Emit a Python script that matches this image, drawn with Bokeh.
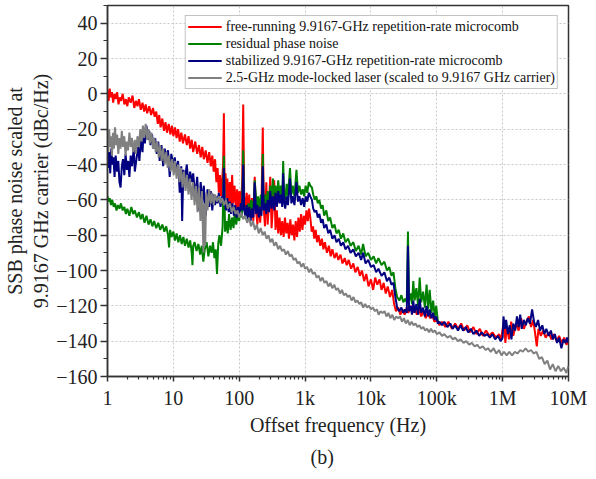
from bokeh.plotting import figure
from bokeh.models import FixedTicker, Title
from bokeh.embed import file_html
from bokeh.resources import INLINE

# ---------------- data (offset frequency in Hz, SSB phase noise in dBc/Hz) -------------
red = [(1,2),(1.04,-4),(1.08,3),(1.12,-2),(1.17,1),(1.22,-5),(1.28,0),(1.34,-3),(1.4,1),(1.47,-6),
       (1.54,-2),(1.6,-4),(1.7,0),(1.8,-6),(1.9,-3),(2.0,-7),(2.1,-2),(2.25,-5),(2.4,-1),(2.55,-8),
       (2.7,-4),(2.85,-7),(3.0,-3),(3.2,-9),(3.4,-5),(3.6,-10),(3.8,-6),(4.0,-11),(4.3,-7),(4.6,-12),
       (4.9,-8),(5.2,-13),(5.5,-10),(5.8,-17),(6.1,-12),(6.4,-19),(6.8,-14),(7.2,-21),(7.6,-16),(8.0,-22),
       (8.5,-17),(9.0,-23),(9.5,-18),(10,-24),(10.6,-19),(11.2,-25),(11.8,-20),(12.5,-27),(13.2,-22),(14,-28),
       (15,-23),(16,-29),(17,-24),(18,-31),(19,-26),(20,-33),(21.5,-27),(23,-34),(24.5,-29),(26,-36),
       (27.5,-30),(29,-37),(31,-32),(33,-39),(35,-33),(37,-41),(39,-35),(41,-44),(43,-37),(45,-50),
       (47,-42),(49,-56),(51,-46),(53,-58),(55,-49),(57,-40),(58.5,-11),(60,-52),(62,-45),(64,-59),
       (66,-48),(69,-61),(72,-50),(75,-63),(78,-46),(81,-62),(85,-52),(89,-65),(93,-54),(97,-66),
       (101,-55),(106,-64),(111,-50),(115,-6),(119,-58),(124,-67),(130,-56),(136,-69),(142,-57),(149,-70),
       (156,-59),(164,-72),(172,-47),(180,-66),(189,-74),(198,-60),(208,-73),(218,-62),(228,-19),(236,-65),
       (246,-75),(258,-50),(270,-74),(283,-62),(296,-47),(310,-76),(325,-64),(340,-49),(356,-77),(373,-66),
       (391,-79),(410,-70),(430,-80),(450,-72),(472,-81),(495,-70),(519,-79),(544,-73),(570,-82),(597,-71),
       (626,-80),(656,-74),(688,-83),(721,-72),(756,-81),(792,-70),(830,-78),(870,-68),(912,-77),(956,-69),
       (1000,-74),(1050,-66),(1100,-72),(1150,-65),(1200,-70),(1260,-78),(1320,-75),(1380,-82),(1450,-77),(1520,-84),
       (1600,-80),(1700,-86),(1800,-82),(1900,-88),(2000,-84),(2150,-90),(2300,-86),(2450,-92),(2600,-88),(2800,-93),
       (3000,-90),(3200,-94),(3450,-91),(3700,-96),(4000,-93),(4300,-97),(4600,-94),(5000,-99),(5400,-96),(5800,-101),
       (6300,-98),(6800,-103),(7300,-100),(7900,-106),(8500,-102),(9200,-109),(10000,-105),(10800,-111),(11600,-104),(12500,-108),
       (13500,-105),(14500,-111),(15600,-107),(16800,-113),(18000,-109),(19500,-115),(21000,-111),(22500,-119),(24000,-123),(26000,-121),
       (28000,-125),(30000,-122),(32500,-125),(35000,-121),(37000,-124),(40000,-120),(43000,-124),(46000,-121),(50000,-125),(54000,-122),
       (58000,-126),(63000,-123),(68000,-127),(73000,-124),(79000,-127),(85000,-125),(92000,-129),(100000,-128),(110000,-131),(120000,-129),
       (135000,-132),(150000,-129),(170000,-133),(190000,-130),(210000,-133),(235000,-130),(260000,-134),(290000,-131),(320000,-135),(360000,-132),
       (400000,-136),(450000,-133),(500000,-137),(560000,-134),(630000,-137),(700000,-135),(790000,-138),(880000,-136),(950000,-139),(1000000,-133),
       (1050000,-128),(1100000,-141),(1150000,-132),(1250000,-139),(1350000,-129),(1450000,-137),(1600000,-130),(1750000,-134),(1900000,-127),(2100000,-133),
       (2300000,-129),(2500000,-126),(2700000,-132),(2900000,-128),(3100000,-135),(3300000,-143),(3500000,-133),(3800000,-137),(4100000,-134),(4500000,-138),
       (5000000,-135),(5500000,-139),(6000000,-136),(6600000,-140),(7200000,-137),(7900000,-141),(8600000,-138),(9300000,-142),(10000000,-140)]

green = [(1,-58),(1.04,-61),(1.08,-59),(1.13,-63),(1.18,-60),(1.24,-64),(1.3,-62),(1.37,-66),(1.44,-63),(1.52,-65),
         (1.6,-62),(1.7,-66),(1.8,-64),(1.9,-68),(2.0,-65),(2.15,-69),(2.3,-64),(2.45,-68),(2.6,-66),(2.8,-70),
         (3.0,-67),(3.2,-71),(3.4,-68),(3.65,-73),(3.9,-69),(4.2,-74),(4.5,-71),(4.8,-75),(5.1,-72),(5.5,-76),
         (5.9,-73),(6.3,-77),(6.8,-74),(7.3,-78),(7.8,-75),(8.3,-80),(8.6,-87),(8.9,-77),(9.4,-81),(10,-78),
         (10.6,-83),(11.2,-79),(11.9,-84),(12.6,-80),(13.4,-85),(14.2,-81),(15,-86),(16,-82),(17,-87),(18,-83),
         (19,-90),(19.5,-97),(20,-86),(21,-84),(22.5,-89),(24,-85),(25.5,-91),(27,-86),(28.5,-95),(30,-88),
         (32,-84),(34,-92),(36,-86),(38,-90),(40,-84),(42,-93),(44,-88),(46,-102),(48,-85),(50,-80),
         (53,-86),(56,-75),(58.5,-35),(61,-78),(64,-72),(67,-79),(70,-68),(74,-77),(78,-70),(82,-76),
         (86,-66),(90,-74),(95,-68),(100,-72),(105,-64),(110,-70),(115,-32),(119,-66),(125,-64),(131,-69),
         (138,-62),(145,-67),(152,-60),(160,-66),(168,-59),(172,-49),(184,-64),(193,-58),(203,-65),(213,-57),
         (223,-63),(228,-34),(234,-62),(246,-57),(258,-64),(270,-55),(283,-62),(296,-52),(310,-60),(325,-48),
         (340,-58),(356,-52),(373,-60),(391,-49),(410,-58),(430,-52),(450,-59),(465,-38),(480,-56),(500,-60),
         (525,-51),(550,-58),(590,-42),(620,-57),(650,-52),(690,-58),(740,-43),(780,-56),(820,-52),(870,-57),
         (920,-54),(970,-58),(1020,-52),(1080,-56),(1140,-50),(1200,-52),(1270,-53),(1330,-57),(1400,-60),(1480,-58),
         (1560,-62),(1650,-60),(1750,-65),(1850,-63),(1950,-69),(2100,-66),(2250,-72),(2400,-70),(2600,-76),(2800,-74),
         (3000,-79),(3250,-77),(3500,-82),(3800,-79),(4100,-84),(4500,-82),(4900,-86),(5400,-84),(5900,-89),(6500,-86),
         (7100,-91),(7600,-85),(8300,-92),(9100,-90),(10000,-94),(11000,-92),(12000,-96),(13000,-93),(14500,-97),(16000,-95),
         (17500,-100),(19000,-98),(20500,-103),(22000,-101),(23500,-110),(25000,-115),(27000,-117),(29000,-114),(31000,-118),(33000,-116),
         (35000,-118),(36500,-78),(38000,-117),(40000,-113),(42000,-119),(44000,-106),(46000,-117),(49000,-110),(52000,-120),(55000,-104),
         (58000,-118),(62000,-112),(66000,-121),(70000,-108),(74000,-122),(78000,-111),(83000,-124),(88000,-117),(93000,-126),(98000,-120),
         (104000,-129)]

blue = [(1,-30),(1.03,-42),(1.06,-33),(1.1,-45),(1.14,-31),(1.18,-40),(1.23,-36),(1.28,-47),(1.33,-35),(1.4,-44),
        (1.46,-38),(1.52,-50),(1.58,-53),(1.65,-41),(1.72,-37),(1.8,-46),(1.88,-34),(1.97,-43),(2.06,-38),(2.15,-47),
        (2.25,-35),(2.35,-41),(2.5,-31),(2.6,-44),(2.75,-37),(2.9,-30),(3.05,-38),(3.2,-26),(3.4,-33),(3.55,-20),
        (3.7,-28),(3.9,-18),(4.1,-26),(4.3,-21),(4.5,-29),(4.75,-23),(5.0,-31),(5.3,-25),(5.6,-34),(5.9,-27),
        (6.2,-38),(6.6,-29),(7.0,-41),(7.4,-31),(7.8,-36),(8.3,-32),(8.8,-47),(9.3,-34),(9.9,-40),(10.5,-36),
        (11.1,-44),(11.8,-38),(12.5,-56),(13.2,-41),(13.6,-72),(14.2,-43),(15,-48),(16,-40),(17,-52),(18,-44),
        (19,-50),(20,-45),(21.5,-58),(23,-47),(24.5,-66),(26,-50),(27.5,-62),(29,-52),(31,-69),(33,-54),
        (35,-64),(37,-55),(39,-66),(41,-57),(43,-63),(45,-58),(47,-62),(49,-56),(52,-64),(55,-58),
        (57,-60),(58.5,-42),(60,-61),(63,-66),(66,-59),(69,-67),(72,-61),(75,-68),(79,-62),(83,-69),
        (87,-63),(91,-70),(96,-64),(101,-68),(106,-62),(111,-66),(115,-40),(119,-65),(124,-70),(130,-63),
        (136,-71),(142,-64),(149,-72),(156,-65),(164,-70),(172,-50),(180,-68),(189,-63),(198,-70),(208,-64),
        (218,-69),(228,-41),(236,-66),(246,-62),(258,-68),(270,-60),(283,-67),(296,-55),(310,-65),(325,-58),
        (340,-66),(356,-56),(373,-64),(391,-55),(410,-62),(430,-57),(450,-64),(465,-45),(480,-61),(500,-65),
        (525,-58),(550,-63),(590,-48),(620,-62),(650,-58),(690,-63),(740,-50),(780,-61),(820,-58),(870,-63),
        (920,-59),(970,-64),(1020,-58),(1080,-61),(1140,-56),(1200,-58),(1270,-60),(1330,-65),(1400,-67),(1480,-66),
        (1560,-70),(1650,-68),(1750,-73),(1850,-71),(1950,-76),(2100,-74),(2250,-79),(2400,-77),(2600,-82),(2800,-80),
        (3000,-84),(3250,-82),(3500,-86),(3800,-84),(4100,-88),(4500,-86),(4900,-90),(5400,-88),(5900,-92),(6500,-90),
        (7100,-94),(7600,-90),(8300,-96),(9100,-94),(10000,-98),(11000,-97),(12000,-101),(13000,-99),(14500,-103),(16000,-101),
        (17500,-106),(19000,-104),(20500,-108),(22000,-107),(23500,-115),(25000,-121),(27000,-123),(29000,-121),(31000,-124),(33000,-122),
        (35000,-124),(36500,-86),(38000,-123),(40000,-120),(42000,-125),(44000,-117),(46000,-124),(49000,-119),(52000,-125),(55000,-116),
        (58000,-124),(62000,-121),(66000,-126),(70000,-120),(74000,-126),(78000,-122),(83000,-127),(88000,-124),(93000,-128),(98000,-126),
        (104000,-130),(110000,-129),(120000,-131),(130000,-129),(145000,-132),(160000,-130),(175000,-133),(190000,-131),(210000,-134),(230000,-131),
        (250000,-134),(275000,-132),(300000,-135),(330000,-133),(360000,-136),(400000,-134),(440000,-137),(480000,-135),(530000,-137),(580000,-136),
        (640000,-138),(700000,-136),(770000,-139),(850000,-137),(930000,-140),(1000000,-138),(1030000,-126),(1080000,-133),(1130000,-128),(1200000,-136),
        (1280000,-131),(1360000,-139),(1450000,-130),(1550000,-134),(1650000,-126),(1750000,-132),(1850000,-125),(1950000,-133),(2100000,-128),(2250000,-131),
        (2400000,-127),(2600000,-130),(2800000,-122),(3000000,-129),(3200000,-132),(3450000,-128),(3700000,-134),(4000000,-131),(4300000,-136),(4600000,-133),
        (5000000,-137),(5400000,-134),(5800000,-139),(6200000,-136),(6700000,-141),(7200000,-138),(7800000,-144),(8400000,-139),(9000000,-141),(9500000,-138),
        (10000000,-141)]

gray = [(1,-22),(1.03,-33),(1.06,-20),(1.09,-30),(1.13,-24),(1.17,-35),(1.21,-22),(1.25,-31),(1.3,-19),(1.35,-29),
        (1.4,-23),(1.46,-34),(1.52,-25),(1.58,-31),(1.65,-21),(1.72,-30),(1.8,-24),(1.88,-35),(1.96,-27),(2.05,-32),
        (2.15,-22),(2.25,-30),(2.35,-25),(2.45,-33),(2.6,-26),(2.7,-34),(2.85,-24),(3.0,-30),(3.15,-20),(3.3,-27),
        (3.45,-18),(3.6,-25),(3.8,-17),(4.0,-26),(4.2,-20),(4.4,-28),(4.65,-22),(4.9,-31),(5.15,-25),(5.4,-33),
        (5.7,-27),(6.0,-36),(6.3,-29),(6.65,-38),(7.0,-31),(7.4,-40),(7.8,-33),(8.2,-42),(8.6,-35),(9.1,-44),
        (9.6,-37),(10.1,-46),(10.6,-38),(11.2,-48),(11.8,-40),(12.4,-50),(13.1,-42),(13.8,-53),(14.5,-44),(15.3,-55),
        (16.1,-46),(17,-57),(17.9,-48),(18.9,-60),(19.9,-50),(21,-63),(22.1,-52),(23.3,-67),(24.5,-53),(25.8,-72),
        (27.2,-55),(28.6,-90),(29.5,-62),(30.5,-86),(31.5,-56),(33,-66),(35,-54),(37,-62),(39,-56),(41,-63),
        (43,-57),(46,-61),(49,-58),(52,-62),(55,-59),(59,-63),(63,-60),(67,-65),(72,-62),(77,-67),
        (82,-64),(88,-68),(94,-66),(100,-70),(107,-67),(115,-71),(123,-69),(132,-73),(141,-70),(151,-75),
        (162,-72),(173,-77),(185,-74),(198,-79),(212,-76),(227,-80),(243,-78),(260,-82),(278,-80),(297,-84),
        (318,-82),(340,-86),(364,-84),(390,-88),(417,-86),(446,-89),(478,-88),(511,-91),(547,-89),(585,-92),
        (626,-91),(670,-94),(717,-93),(767,-96),(820,-95),(878,-98),(940,-96),(1000,-99),(1070,-98),(1150,-101),
        (1230,-99),(1310,-102),(1400,-101),(1500,-104),(1610,-103),(1720,-106),(1840,-104),(1970,-107),(2110,-106),(2260,-109),
        (2420,-107),(2590,-110),(2770,-108),(2960,-111),(3170,-110),(3390,-113),(3630,-111),(3880,-114),(4150,-113),(4440,-115),
        (4750,-114),(5080,-117),(5440,-115),(5820,-118),(6230,-117),(6660,-119),(7130,-118),(7630,-121),(8160,-119),(8730,-121),
        (9340,-120),(10000,-122),(10700,-121),(11500,-123),(12300,-122),(13100,-125),(14000,-123),(15000,-124),(16100,-123),(17200,-126),
        (18400,-124),(19700,-127),(21100,-125),(22600,-128),(24200,-126),(25900,-127),(27700,-126),(29600,-129),(31700,-127),(33900,-130),
        (36300,-128),(38800,-131),(41500,-129),(44400,-131),(47500,-130),(50800,-132),(54400,-131),(58200,-133),(62300,-132),(66600,-134),
        (71300,-133),(76300,-135),(81600,-133),(87300,-135),(93400,-134),(100000,-136),(110000,-135),(120000,-137),(130000,-136),(145000,-138),
        (160000,-137),(175000,-139),(190000,-138),(210000,-140),(230000,-139),(255000,-141),(280000,-140),(310000,-142),(340000,-141),(375000,-143),
        (410000,-142),(450000,-144),(500000,-143),(550000,-145),(600000,-144),(660000,-146),(730000,-144),(800000,-147),(880000,-145),(960000,-148),
        (1050000,-146),(1150000,-148),(1260000,-146),(1390000,-148),(1530000,-146),(1680000,-147),(1850000,-145),(2030000,-146),(2230000,-144),(2450000,-146),
        (2700000,-145),(2970000,-147),(3260000,-146),(3590000,-150),(3950000,-149),(4340000,-153),(4770000,-151),(5250000,-156),(5770000,-153),(6350000,-157),
        (6980000,-154),(7680000,-157),(8450000,-155),(9290000,-158),(10000000,-154)]

series_labels = [
    "free-running 9.9167-GHz repetition-rate microcomb",
    "residual phase noise",
    "stabilized 9.9167-GHz repetition-rate microcomb",
    "2.5-GHz mode-locked laser (scaled to 9.9167 GHz carrier)",
]
series_colors = ["#ff0000", "#008000", "#000080", "#808080"]

x_ticks = [1, 10, 100, 1000, 10000, 100000, 1000000, 10000000]
x_tick_labels = ["1", "10", "100", "1k", "10k", "100k", "1M", "10M"]
y_ticks = [-160, -140, -120, -100, -80, -60, -40, -20, 0, 20, 40]

FONT = "Liberation Serif"

p = figure(width=596, height=479, x_axis_type="log", x_range=(1, 1e7), y_range=(-160, 50),
           output_backend="svg", toolbar_location=None,
           min_border_left=107, min_border_right=28, min_border_top=5, min_border_bottom=103,
           x_axis_label="Offset frequency (Hz)",
           y_axis_label="SSB phase noise scaled at\n9.9167 GHz carrier (dBc/Hz)")

for data, lab, col in zip([red, green, blue, gray], series_labels, series_colors):
    xs = [d[0] for d in data]
    ys = [d[1] for d in data]
    p.line(xs, ys, line_color=col, line_width=2, legend_label=lab)

# axes / ticks
minor_x = [m * t for t in x_ticks[:-1] for m in range(2, 10)]
p.xaxis.ticker = FixedTicker(ticks=x_ticks, minor_ticks=minor_x)
p.xaxis.major_label_overrides = {int(t): s for t, s in zip(x_ticks, x_tick_labels)}
p.yaxis.ticker = FixedTicker(ticks=y_ticks, minor_ticks=[t + 10 for t in y_ticks])
p.xgrid.ticker = FixedTicker(ticks=x_ticks)
p.ygrid.ticker = FixedTicker(ticks=y_ticks)

for ax in (p.xaxis, p.yaxis):
    ax.axis_line_color = "#333333"
    ax.axis_line_width = 1.5
    ax.major_tick_line_color = "#333333"
    ax.minor_tick_line_color = "#333333"
    ax.major_tick_line_width = 1.5
    ax.minor_tick_line_width = 1.2
    ax.major_tick_in = 0
    ax.minor_tick_in = 0
    ax.major_label_text_font = FONT
    ax.major_label_text_font_size = "20px"
    ax.major_label_text_color = "#222222"
    ax.axis_label_text_font = FONT
    ax.axis_label_text_font_size = "20px"
    ax.axis_label_text_font_style = "normal"
    ax.axis_label_text_color = "#222222"

p.xaxis.major_tick_out = 5
p.xaxis.minor_tick_out = 3
p.xaxis.major_label_standoff = 5
p.xaxis.axis_label_standoff = 2
p.yaxis.major_tick_out = 7
p.yaxis.minor_tick_out = 4
p.yaxis.major_label_standoff = 3
p.yaxis.axis_label_standoff = 1
p.yaxis.axis_label_text_line_height = 1.2

p.grid.grid_line_color = "#c8c8c8"
p.grid.grid_line_dash = "2 2"
p.grid.grid_line_width = 1

p.outline_line_color = "#333333"
p.outline_line_width = 1.5
p.outline_line_alpha = 1

lg = p.legend[0]
lg.location = "top_right"
lg.margin = 10
lg.padding = 2
lg.spacing = 0
lg.label_height = 17
lg.glyph_height = 17
lg.glyph_width = 34
lg.label_standoff = 4
lg.label_text_font = FONT
lg.label_text_font_size = "14px"
lg.label_text_color = "#111111"
lg.border_line_color = "#888888"
lg.border_line_width = 1
lg.background_fill_alpha = 1

p.add_layout(Title(text="(b)", align="left", offset=203, text_font=FONT, text_font_size="20px",
                   text_font_style="normal", text_color="#222222", standoff=10), "below")

open("out.html", "w").write(file_html(p, INLINE))
